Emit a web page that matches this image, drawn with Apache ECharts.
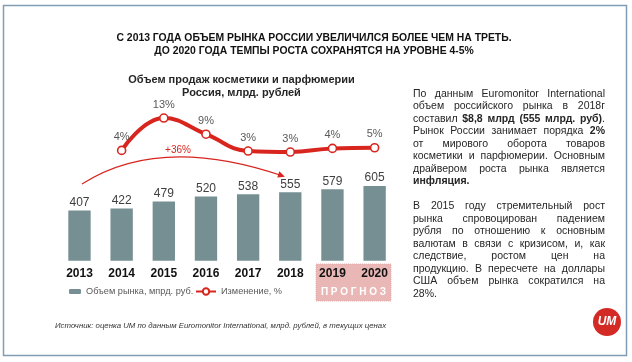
<!DOCTYPE html>
<html><head><meta charset="utf-8">
<script src="https://cdn.jsdelivr.net/npm/echarts@6/dist/echarts.min.js"></script>
<style>html,body{margin:0;padding:0;background:#fff}#c{width:632px;height:362px}</style>
</head><body><div id="c"></div>
<script>
// ---- data ----
const years = ['2013','2014','2015','2016','2017','2018','2019','2020'];
const marketVolume = [407,422,479,520,538,555,579,605];
const growthPct = [null,3.7,13.5,8.6,3.5,3.2,4.3,4.5];
const growthLabels = ['','4%','13%','9%','3%','3%','4%','5%'];
const seriesNames = ['Объем рынка, мпрд. руб.','Изменение, %'];
const titleLines = ['С 2013 ГОДА ОБЪЕМ РЫНКА РОССИИ УВЕЛИЧИЛСЯ БОЛЕЕ ЧЕМ НА ТРЕТЬ.','ДО 2020 ГОДА ТЕМПЫ РОСТА СОХРАНЯТСЯ НА УРОВНЕ 4-5%'];
const chartTitle = ['Объем продаж косметики и парфюмерии','Россия, млрд. рублей'];
const para1 = ['По данным Euromonitor International','объем российского рынка в 2018г','составил **$8,8 млрд (555 млрд. руб)**.','Рынок России занимает порядка **2%**','от мирового оборота товаров','косметики и парфюмерии. Основным','драйвером роста рынка является','**инфляция.**'];
const para2 = ['В 2015 году стремительный рост','рынка спровоцирован падением','рубля по отношению к основным','валютам в связи с кризисом, и, как','следствие, ростом цен на','продукцию. В пересчете на доллары','США объем рынка сократился на','28%.'];
const sourceText = 'Источник: оценка UM по данным Euromonitor International, млрд. рублей, в текущих ценах';
const forecastText = 'П Р О Г Н О З';
const growthNote = '+36%';

const FONT = '"Liberation Sans", Arial, sans-serif';
const RED = '#d8261f';
const BAR = '#768f92';

const mctx = document.createElement('canvas').getContext('2d');
function tw(s, bold, size){ mctx.font = (bold?'bold ':'') + size + 'px "Liberation Sans"'; return mctx.measureText(s).width; }

function justifiedBlock(lines, x0, width, y0, step, size, color){
  const out = [];
  let bold = false;
  lines.forEach((line, li) => {
    const words = line.split(' ').map(w => {
      const parts = w.split('**'); const segs = [];
      parts.forEach((p, i) => { if (i > 0) bold = !bold; if (p) segs.push({t:p, b:bold}); });
      return segs;
    });
    const widths = words.map(ws => ws.reduce((a,s)=>a+tw(s.t,s.b,size),0));
    const sum = widths.reduce((a,b)=>a+b,0);
    const last = li === lines.length-1;
    const gap = (!last && words.length>1) ? (width-sum)/(words.length-1) : tw(' ',false,size);
    let x = x0; const y = y0 + li*step;
    words.forEach((ws) => {
      ws.forEach(s => {
        out.push({type:'text', x:x, y:y, silent:true, style:{text:s.t, fill:color, font:(s.b?'bold ':'')+size+'px '+FONT, textAlign:'left', textVerticalAlign:'middle'}});
        x += tw(s.t,s.b,size);
      });
      x += gap;
    });
  });
  return out;
}

// arrow
const a0 = [82,184], ac = [160,134], a1 = [283,176];
const dx = a1[0]-ac[0], dy = a1[1]-ac[1], dl = Math.hypot(dx,dy), ux = dx/dl, uy = dy/dl;
const tip = [a1[0]+ux*2, a1[1]+uy*2];
const head = [tip, [tip[0]-ux*7-uy*3.2, tip[1]-uy*7+ux*3.2], [tip[0]-ux*7+uy*3.2, tip[1]-uy*7-ux*3.2]];

const graphics = [
  {type:'rect', silent:true, shape:{x:3.5,y:5.5,width:623,height:350}, style:{fill:'none', stroke:'#7f9db4', lineWidth:1.5}},
  {type:'text', x:314, y:38, style:{text:titleLines[0], fill:'#111', font:'bold 10.4px '+FONT, textAlign:'center', textVerticalAlign:'middle'}},
  {type:'text', x:314, y:51, style:{text:titleLines[1], fill:'#111', font:'bold 10.4px '+FONT, textAlign:'center', textVerticalAlign:'middle'}},
  {type:'text', x:241.5, y:80, style:{text:chartTitle[0], fill:'#262626', font:'bold 11px '+FONT, textAlign:'center', textVerticalAlign:'middle'}},
  {type:'text', x:241.5, y:93, style:{text:chartTitle[1], fill:'#262626', font:'bold 11px '+FONT, textAlign:'center', textVerticalAlign:'middle'}},
  {type:'rect', z:-5, silent:true, shape:{x:316,y:264,width:75,height:37}, style:{fill:'#e9b8b6', stroke:'#e3a3a1', lineWidth:0.8, lineDash:[1,1]}},
  {type:'text', x:353.5, y:292, style:{text:forecastText, fill:'#fff', font:'bold 10px '+FONT, textAlign:'center', textVerticalAlign:'middle'}},
  {type:'bezierCurve', shape:{x1:a0[0],y1:a0[1],cpx1:ac[0],cpy1:ac[1],x2:a1[0],y2:a1[1]}, style:{stroke:RED, lineWidth:1.1, fill:'none'}},
  {type:'polygon', shape:{points:head}, style:{fill:RED}},
  {type:'text', x:178, y:150, style:{text:growthNote, fill:RED, font:'10px '+FONT, textAlign:'center', textVerticalAlign:'middle'}},
  {type:'text', x:55, y:326, style:{text:sourceText, fill:'#333', font:'italic 7.8px '+FONT, textAlign:'left', textVerticalAlign:'middle'}},
  {type:'circle', shape:{cx:607,cy:322,r:14}, style:{fill:'#d42a25'}},
  {type:'text', x:607, y:322, style:{text:'UM', fill:'#fff', font:'italic bold 12px '+FONT, textAlign:'center', textVerticalAlign:'middle'}}
].concat(
  justifiedBlock(para1, 413, 192, 94, 12.5, 10.5, '#262626'),
  justifiedBlock(para2, 413, 192, 206.5, 12.5, 10.5, '#262626')
);

const chart = echarts.init(document.getElementById('c'), null, {renderer:'canvas'});
chart.setOption({
  animation:false,
  textStyle:{fontFamily:FONT},
  grid:[
    {left:58.4, width:337.3, top:174.3, height:86.4},
    {left:58.4, width:337.3, top:113.1, height:49.5}
  ],
  xAxis:[
    {gridIndex:0, type:'category', data:years, axisLine:{show:false}, axisTick:{show:false},
     axisLabel:{margin:7, color:'#111', fontWeight:'bold', fontSize:12, fontFamily:FONT}},
    {gridIndex:1, type:'category', data:years, show:false}
  ],
  yAxis:[
    {gridIndex:0, type:'value', min:0, max:700, show:false},
    {gridIndex:1, type:'value', min:0, max:15, show:false}
  ],
  legend:[
    {data:[seriesNames[0]], left:69, top:287, itemWidth:12, itemHeight:5, padding:0,
     textStyle:{color:'#595959', fontSize:9.2, fontFamily:FONT}},
    {data:[seriesNames[1]], left:195, top:287, itemWidth:20, itemHeight:8, padding:0,
     textStyle:{color:'#595959', fontSize:9.2, fontFamily:FONT}}
  ],
  series:[
    {name:seriesNames[0], type:'bar', xAxisIndex:0, yAxisIndex:0, data:marketVolume, barWidth:'53%',
     itemStyle:{color:BAR},
     label:{show:true, position:'top', distance:2, color:'#404040', fontSize:12, fontFamily:FONT}},
    {name:seriesNames[1], type:'line', xAxisIndex:1, yAxisIndex:1, data:growthPct, smooth:0.45,
     symbol:'circle', symbolSize:8, showSymbol:true,
     lineStyle:{color:RED, width:4}, itemStyle:{color:'#fff', borderColor:RED, borderWidth:1.6},
     label:{show:true, position:'top', distance:3, color:'#595959', fontSize:11, fontFamily:FONT,
            formatter:p => growthLabels[p.dataIndex]}}
  ],
  graphic:{elements:graphics}
});
</script></body></html>
